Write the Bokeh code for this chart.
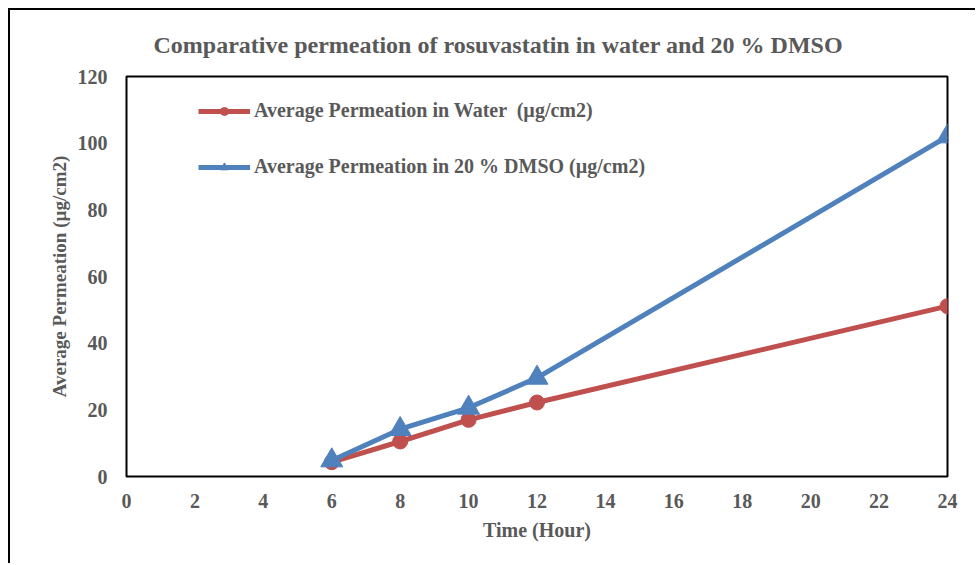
from bokeh.plotting import figure
from bokeh.models import Range1d, FixedTicker, Legend, LegendItem
from bokeh.embed import file_html
from bokeh.resources import INLINE

time_h = [6, 8, 10, 12, 24]
water = [4.3, 10.5, 17.0, 22.2, 51.1]
dmso = [4.8, 14.2, 20.6, 29.6, 102.0]
x_ticks = list(range(0, 25, 2))
y_ticks = list(range(0, 121, 20))

RED = "#C0504D"
BLUE = "#4F81BD"
GRAY = "#595959"
FONT = "Liberation Serif"

p = figure(width=967, height=555, output_backend="svg", toolbar_location=None,
           x_range=Range1d(0, 24), y_range=Range1d(0, 120),
           min_border_left=116, min_border_right=30, min_border_top=66, min_border_bottom=89,
           margin=(8, 0, 0, 8),
           styles={"border-left": "2px solid #000", "border-top": "2px solid #000"})

p.title.text = "Comparative permeation of rosuvastatin in water and 20 % DMSO"
p.title.text_font = FONT
p.title.text_font_size = "24px"
p.title.text_font_style = "bold"
p.title.text_color = GRAY
p.title.align = "left"
p.title.offset = 27
p.title.standoff = 38

p.grid.visible = False
p.outline_line_color = "black"
p.outline_line_width = 2

for ax in (p.xaxis[0], p.yaxis[0]):
    ax.axis_line_color = None
    ax.major_tick_line_color = None
    ax.minor_tick_line_color = None
    ax.major_label_text_font = FONT
    ax.major_label_text_font_style = "bold"
    ax.major_label_text_font_size = "20px"
    ax.major_label_text_color = GRAY
    ax.axis_label_text_font = FONT
    ax.axis_label_text_font_style = "bold"
    ax.axis_label_text_color = GRAY

p.xaxis.axis_label_text_font_size = "20px"
p.yaxis.axis_label_text_font_size = "19px"
p.xaxis.ticker = FixedTicker(ticks=x_ticks)
p.yaxis.ticker = FixedTicker(ticks=y_ticks)
p.xaxis.axis_label = "Time (Hour)"
p.yaxis.axis_label = "Average Permeation (µg/cm2)"
p.xaxis.major_label_standoff = 11
p.yaxis.major_label_standoff = 13
p.xaxis.axis_label_standoff = 8
p.yaxis.axis_label_standoff = 5

l1 = p.line(time_h, water, line_color=RED, line_width=5)
s1 = p.scatter(time_h, water, marker="circle", size=15, fill_color=RED, line_color=RED)
l2 = p.line(time_h, dmso, line_color=BLUE, line_width=5)
s2 = p.scatter(time_h, dmso, marker="triangle", size=22, fill_color=BLUE, line_color=BLUE)

legend = Legend(items=[
    LegendItem(label="Average Permeation in Water  (µg/cm2)", renderers=[l1, s1]),
    LegendItem(label="Average Permeation in 20 % DMSO (µg/cm2)", renderers=[l2, s2]),
], location=(72, 298))
legend.glyph_width = 52
legend.glyph_height = 20
legend.label_standoff = 4
legend.spacing = 33
legend.padding = 0
legend.margin = 0
legend.border_line_color = None
legend.background_fill_alpha = 0
legend.label_text_font = FONT
legend.label_text_font_style = "bold"
legend.label_text_font_size = "20px"
legend.label_text_color = GRAY
p.add_layout(legend, "center")

open("out.html", "w").write(file_html(p, INLINE))
